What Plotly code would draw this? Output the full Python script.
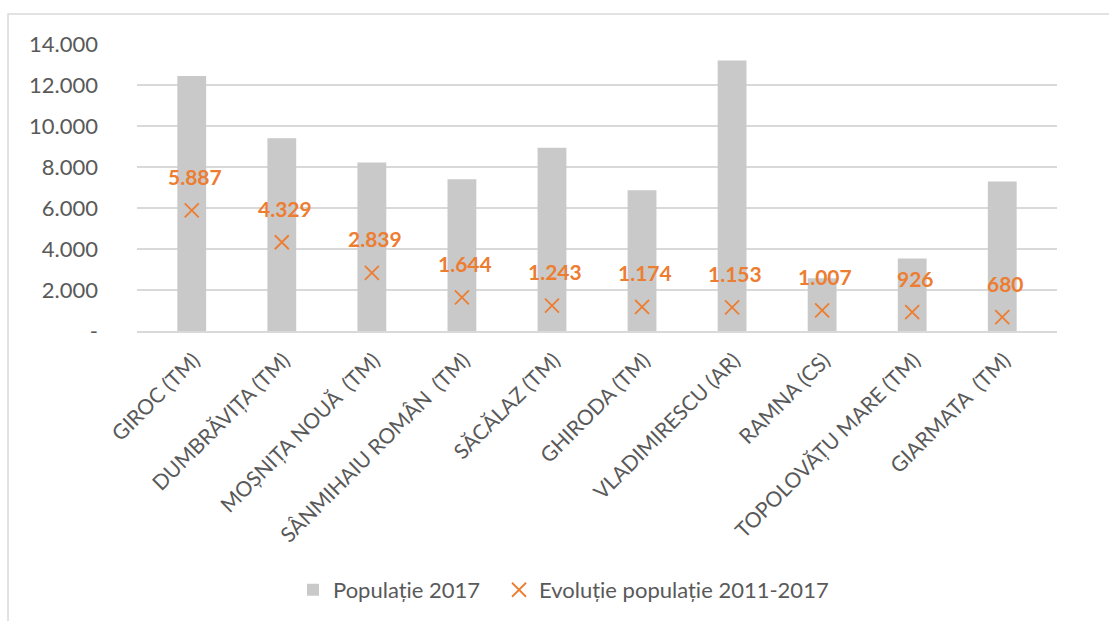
import plotly.graph_objects as go

categories = ["GIROC (TM)", "DUMBRĂVIȚA (TM)", "MOȘNIȚA NOUĂ  (TM)", "SÂNMIHAIU ROMÂN  (TM)",
              "SĂCĂLAZ (TM)", "GHIRODA (TM)", "VLADIMIRESCU (AR)", "RAMNA (CS)",
              "TOPOLOVĂȚU MARE (TM)", "GIARMATA  (TM)"]
populatie_2017 = [12440, 9400, 8215, 7400, 8945, 6870, 13200, 2570, 3540, 7290]
evolutie_2011_2017 = [5887, 4329, 2839, 1644, 1243, 1174, 1153, 1007, 926, 680]
evolutie_labels = ["5.887", "4.329", "2.839", "1.644", "1.243", "1.174", "1.153", "1.007", "926", "680"]
y_tick_vals = [0, 2000, 4000, 6000, 8000, 10000, 12000, 14000]
y_tick_text = ["-", "2.000", "4.000", "6.000", "8.000", "10.000", "12.000", "14.000"]

FONT = "Lato"
GREY_TXT = "#595959"
ORANGE = "#ED7D31"

fig = go.Figure()
fig.add_trace(go.Bar(
    x=categories, y=populatie_2017, name="Populație 2017",
    marker=dict(color="#C9C9C9", line=dict(width=0)), width=0.32, legend="legend",
))
fig.add_trace(go.Scatter(
    x=categories, y=evolutie_2011_2017, name="Evoluție populație 2011-2017",
    mode="markers", marker=dict(symbol="x-thin", size=14, line=dict(color=ORANGE, width=1.8), color=ORANGE),
    legend="legend2",
))
for c, v, t in zip(categories, evolutie_2011_2017, evolutie_labels):
    fig.add_annotation(x=c, y=v, text="<b>" + t + "</b>", showarrow=False, yshift=34, xshift=3,
                       font=dict(family=FONT, size=21, color=ORANGE))

fig.add_shape(type="rect", xref="paper", yref="paper", x0=-0.1402, x1=1.07, y0=-1.2, y1=1.1045,
              line=dict(color="#D9D9D9", width=1.5), fillcolor="rgba(0,0,0,0)", layer="below")

legend_common = dict(orientation="h", xref="container", yref="container", xanchor="left",
                     y=0.05, yanchor="middle", font=dict(family=FONT, size=22, color=GREY_TXT),
                     itemwidth=30, bgcolor="rgba(0,0,0,0)")

fig.update_layout(
    width=1109, height=621,
    margin=dict(l=137, r=52, t=44, b=290),
    paper_bgcolor="white", plot_bgcolor="white",
    bargap=0.68,
    font=dict(family=FONT, color=GREY_TXT),
    showlegend=True,
    legend=dict(x=0.2642, **legend_common),
    legend2=dict(x=0.45, **legend_common),
    xaxis=dict(tickangle=-45, tickfont=dict(family=FONT, size=21, color=GREY_TXT), automargin=False,
               showgrid=False, showline=True, linecolor="#D9D9D9", linewidth=1.5, ticks="",
               ticklabelshift=2, ticklabelstandoff=7),
    yaxis=dict(range=[0, 14000], tickvals=y_tick_vals, ticktext=y_tick_text, automargin=False,
               tickfont=dict(family=FONT, size=22, color=GREY_TXT),
               showgrid=True, gridcolor="#D9D9D9", gridwidth=1.5, zeroline=False,
               showline=False, ticklabelstandoff=38),
)

fig.write_html("out.html", config={"displayModeBar": False},
               post_script="document.body.style.margin='0';document.body.style.overflow='hidden';")
